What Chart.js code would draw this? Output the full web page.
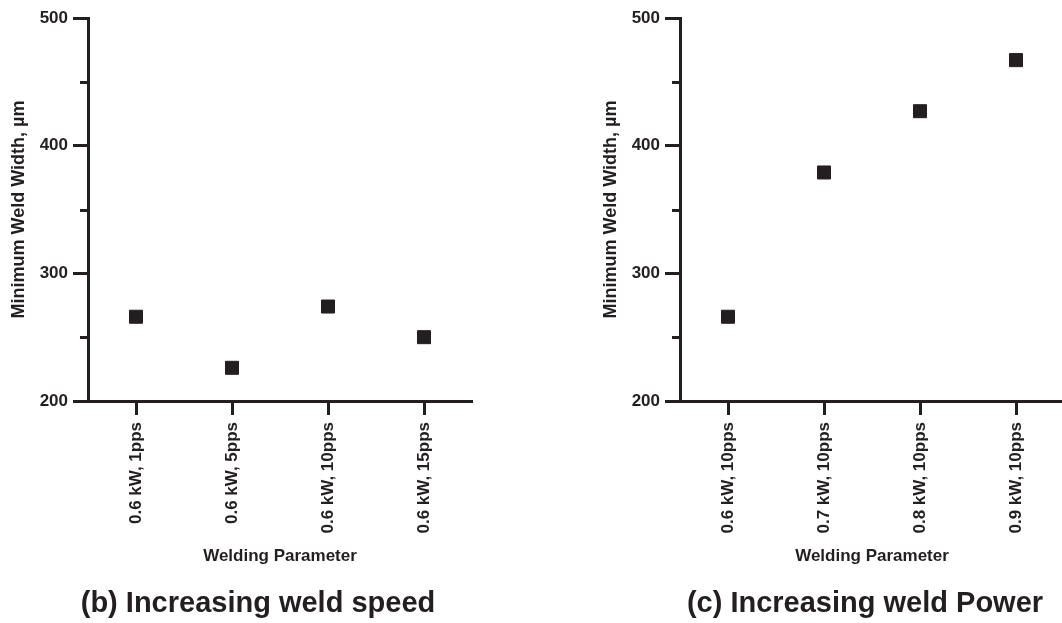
<!DOCTYPE html>
<html>
<head>
<meta charset="utf-8">
<script src="https://cdn.jsdelivr.net/npm/chart.js@4"></script>
<style>
  html, body { margin: 0; padding: 0; background: #fff; overflow: hidden; }
  body { width: 1062px; height: 623px; position: relative; }
  canvas { position: absolute; top: 0; }
  .cap {
    position: absolute; top: 586px; line-height: 34px;
    font: bold 29px "Liberation Sans", Arial, sans-serif; color: #231f20;
    text-align: center; white-space: nowrap;
  }
</style>
</head>
<body>
<canvas id="speedChart" width="531" height="623" style="left:0"></canvas>
<canvas id="powerChart" width="545" height="623" style="left:531px"></canvas>
<div class="cap" style="left:0;width:516px">(b) Increasing weld speed</div>
<div class="cap" style="left:668px;width:394px">(c) Increasing weld Power</div>

<script>
// ----------------------
// Data
// ----------------------
const speedLabels = ["0.6 kW, 1pps", "0.6 kW, 5pps", "0.6 kW, 10pps", "0.6 kW, 15pps"];
const speedWidth = [266, 226, 274, 250];

const powerLabels = ["0.6 kW, 10pps", "0.7 kW, 10pps", "0.8 kW, 10pps", "0.9 kW, 10pps"];
const powerWidth = [266, 379, 427, 467];

const yTicks = [200, 300, 400, 500];
const yMinorTicks = [250, 350, 450];

const ink = "#231f20";
const fontFamily = "'Liberation Sans', Arial, sans-serif";

Chart.defaults.font.family = fontFamily;
Chart.defaults.color = ink;

// short minor ticks on the y axis
const minorTicks = {
  id: "minorTicks",
  afterDraw(chart) {
    const y = chart.scales.y;
    const ctx = chart.ctx;
    ctx.save();
    ctx.strokeStyle = ink;
    ctx.lineWidth = 3;
    yMinorTicks.forEach(v => {
      const py = Math.round(y.getPixelForValue(v)) + 0.5;
      ctx.beginPath();
      ctx.moveTo(chart.chartArea.left - 8, py);
      ctx.lineTo(chart.chartArea.left, py);
      ctx.stroke();
    });
    ctx.restore();
  }
};

function makeChart(id, labels, values, padLeft, padRight) {
  return new Chart(document.getElementById(id), {
    type: "line",
    data: {
      labels: labels,
      datasets: [{
        data: values,
        showLine: false,
        pointStyle: "rect",
        pointRadius: 9.2,
        pointBorderWidth: 1,
        pointBackgroundColor: ink,
        pointBorderColor: ink
      }]
    },
    options: {
      responsive: false,
      animation: false,
      layout: { padding: { left: padLeft, right: padRight, top: 18, bottom: 56 } },
      plugins: { legend: { display: false }, tooltip: { enabled: false } },
      scales: {
        x: {
          type: "category",
          offset: true,
          border: { display: true, color: ink, width: 3 },
          grid: { offset: false, drawOnChartArea: false, tickLength: 14, tickColor: ink, tickWidth: 3 },
          ticks: {
            autoSkip: false, minRotation: 90, maxRotation: 90, padding: 7,
            color: ink, font: { size: 17, weight: "bold" }
          },
          title: {
            display: true, text: "Welding Parameter", color: ink,
            padding: { top: 0, bottom: 0 }, font: { size: 17, weight: "bold" }
          },
          afterFit(scale) { scale.height = 166; }
        },
        y: {
          min: 200,
          max: 500,
          border: { display: true, color: ink, width: 3 },
          grid: { drawOnChartArea: false, tickLength: 15, tickColor: ink, tickWidth: 3 },
          afterBuildTicks(scale) { scale.ticks = yTicks.map(v => ({ value: v })); },
          ticks: { padding: 5, color: ink, font: { size: 17, weight: "bold" } },
          title: {
            display: true, text: "Minimum Weld Width, µm", color: ink,
            padding: { top: 8, bottom: 0 }, font: { size: 18, weight: "bold" }
          },
          afterFit(scale) { scale.width = 88; }
        }
      }
    },
    plugins: [minorTicks]
  });
}

makeChart("speedChart", speedLabels, speedWidth, 0, 59);
makeChart("powerChart", powerLabels, powerWidth, 61, 12);
</script>
</body>
</html>
